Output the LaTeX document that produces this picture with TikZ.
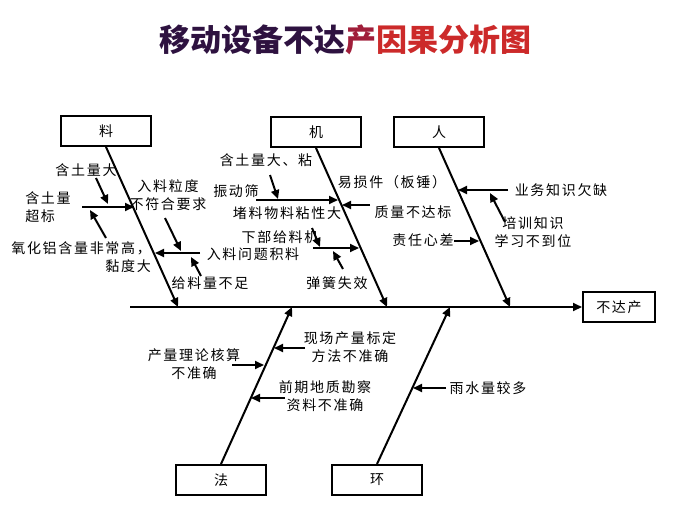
\documentclass[tikz,border=0pt]{standalone}
\usepackage{fontspec}
\newfontfamily\cjk{Noto Sans CJK SC}
\newfontfamily\cjkw[LetterSpace=12]{Noto Sans CJK SC}
\usetikzlibrary{arrows.meta}
\begin{document}
\begin{tikzpicture}[x=1pt,y=-1pt,
  box/.style={draw,line width=2pt,minimum width=90pt,minimum height=30pt,font=\cjkw\fontsize{14}{16}\selectfont},
  lbl/.style={font=\cjkw\fontsize{14}{18}\selectfont,align=center,inner sep=1pt},
  bone/.style={line width=2pt,-{Triangle[length=9pt,width=8pt]}},
  sub/.style={line width=2pt,-{Triangle[length=9pt,width=8pt]}}]
\useasboundingbox (0,0) rectangle (690,530);
\node[font=\cjk\bfseries\fontsize{31}{33}\selectfont] (title) at (345,40)
  {\textcolor[HTML]{2E1240}{移动设备不达}\textcolor[HTML]{A01E3A}{产}\textcolor[HTML]{CC2A2A}{因果分析图}};
% spine
\node[box,minimum width=72pt] (res) at (619,307) {不达产};
\coordinate (s0) at (130,307);
\draw[bone] (s0) -- (res.west);
% category boxes
\node[box] (liao) at (106,131) {料};
\node[box] (ji) at (316,132) {机};
\node[box] (ren) at (439,132) {人};
\node[box] (fa) at (221,480) {法};
\node[box] (huan) at (377,480) {环};
\coordinate (eLiao) at (178,307);
\coordinate (eJi) at (387,307);
\coordinate (eRen) at (510,307);
\coordinate (eFa) at (292,307);
\coordinate (eHuan) at (450,307);
\draw[bone] (liao.south) -- (eLiao);
\draw[bone] (ji.south) -- (eJi);
\draw[bone] (ren.south) -- (eRen);
\draw[bone] (fa.north) -- (eFa);
\draw[bone] (huan.north) -- (eHuan);
% 料
\node[lbl] (l1) at (86,170) {含土量大};
\node[lbl,align=left] (l2) at (48,207) {含土量\\超标};
\node[lbl,align=right,anchor=east] (l3) at (152,257) {氧化铝含量非常高，\\黏度大};
\node[lbl] (l4) at (168,195) {入料粒度\\不符合要求};
\node[lbl] (l5) at (253,254) {入料问题积料};
\node[lbl] (l6) at (210,283) {给料量不足};
\coordinate (a1) at (82,207); \coordinate (a1e) at (134,207);
\draw[sub] (a1) -- (a1e);
\coordinate (a2) at (96,178); \coordinate (a2e) at (108,204);
\draw[sub] (a2) -- (a2e);
\coordinate (a3) at (106,238); \coordinate (a3e) at (90,210);
\draw[sub] (a3) -- (a3e);
\coordinate (a4) at (200,253); \coordinate (a4e) at (155,253);
\draw[sub] (a4) -- (a4e);
\coordinate (a5) at (165,218); \coordinate (a5e) at (181,251);
\draw[sub] (a5) -- (a5e);
\coordinate (a6) at (201,276); \coordinate (a6e) at (191,257);
\draw[sub] (a6) -- (a6e);
% 机
\node[lbl] (j1) at (266,160) {含土量大、粘};
\node[lbl] (j2) at (236,191) {振动筛};
\node[lbl] (j3) at (287,213) {堵料物料粘性大};
\node[lbl] (j4) at (392,182) {易损件（板锤）};
\node[lbl] (j5) at (413,212) {质量不达标};
\node[lbl] (j6) at (280,237) {下部给料机};
\node[lbl] (j7) at (337,283) {弹簧失效};
\coordinate (b1) at (256,200); \coordinate (b1e) at (338,200);
\draw[sub] (b1) -- (b1e);
\coordinate (b2) at (270,175); \coordinate (b2e) at (278,199);
\draw[sub] (b2) -- (b2e);
\coordinate (b3) at (370,205); \coordinate (b3e) at (342,205);
\draw[sub] (b3) -- (b3e);
\coordinate (b4) at (313,248); \coordinate (b4e) at (359,248);
\draw[sub] (b4) -- (b4e);
\coordinate (b5) at (312,228); \coordinate (b5e) at (320,247);
\draw[sub] (b5) -- (b5e);
\coordinate (b6) at (343,269); \coordinate (b6e) at (333,251);
\draw[sub] (b6) -- (b6e);
% 人
\node[lbl] (r1) at (561,190) {业务知识欠缺};
\node[lbl] (r2) at (533,232) {培训知识\\学习不到位};
\node[lbl] (r3) at (423,240) {责任心差};
\coordinate (c1) at (508,190); \coordinate (c1e) at (458,190);
\draw[sub] (c1) -- (c1e);
\coordinate (c2) at (505,222); \coordinate (c2e) at (490,193);
\draw[sub] (c2) -- (c2e);
\coordinate (c3) at (454,241); \coordinate (c3e) at (479,241);
\draw[sub] (c3) -- (c3e);
% 法
\node[lbl] (f1) at (350,347) {现场产量标定\\方法不准确};
\node[lbl] (f2) at (194,364) {产量理论核算\\不准确};
\node[lbl] (f3) at (325,396) {前期地质勘察\\资料不准确};
\coordinate (d1) at (305,348); \coordinate (d1e) at (274,348);
\draw[sub] (d1) -- (d1e);
\coordinate (d2) at (232,365); \coordinate (d2e) at (264,365);
\draw[sub] (d2) -- (d2e);
\coordinate (d3) at (285,398); \coordinate (d3e) at (251,398);
\draw[sub] (d3) -- (d3e);
% 环
\node[lbl] (h1) at (488,388) {雨水量较多};
\coordinate (e1) at (446,388); \coordinate (e1e) at (413,388);
\draw[sub] (e1) -- (e1e);
\end{tikzpicture}
\end{document}
